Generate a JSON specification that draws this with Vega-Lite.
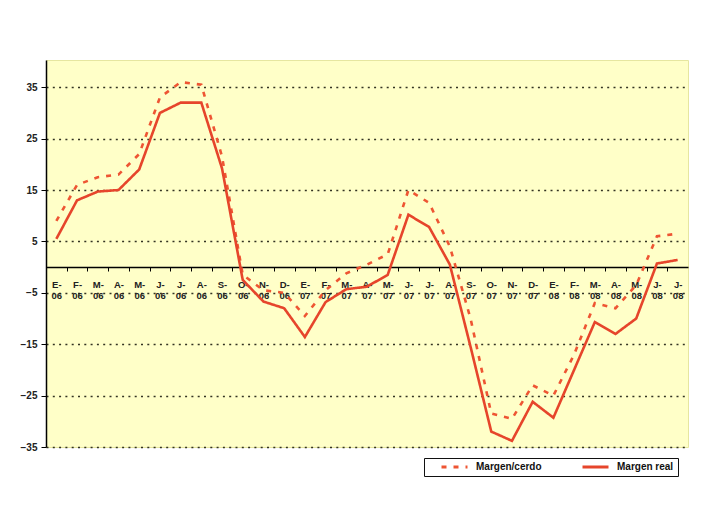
{
  "$schema": "https://vega.github.io/schema/vega-lite/v6.json",
  "width": 642,
  "height": 387,
  "autosize": "none",
  "padding": {"left": 46, "top": 60, "right": 22, "bottom": 74},
  "background": "white",
  "config": {
    "view": {"fill": "#FFFFC8", "stroke": "#E6E6A0", "strokeWidth": 1},
    "font": "Liberation Sans"
  },
  "data": {
    "values": [
      {"fecha": "2006-01", "Margen/cerdo": 9, "Margen real": 5.5},
      {"fecha": "2006-02", "Margen/cerdo": 16, "Margen real": 13},
      {"fecha": "2006-03", "Margen/cerdo": 17.5, "Margen real": 14.7},
      {"fecha": "2006-04", "Margen/cerdo": 18, "Margen real": 15},
      {"fecha": "2006-05", "Margen/cerdo": 22, "Margen real": 19},
      {"fecha": "2006-06", "Margen/cerdo": 33, "Margen real": 30},
      {"fecha": "2006-07", "Margen/cerdo": 36, "Margen real": 32},
      {"fecha": "2006-08", "Margen/cerdo": 35.5, "Margen real": 32},
      {"fecha": "2006-09", "Margen/cerdo": 21.5, "Margen real": 19.2},
      {"fecha": "2006-10", "Margen/cerdo": -1.5, "Margen real": -2.5},
      {"fecha": "2006-11", "Margen/cerdo": -4.5, "Margen real": -6.7},
      {"fecha": "2006-12", "Margen/cerdo": -5, "Margen real": -8},
      {"fecha": "2007-01", "Margen/cerdo": -9.5, "Margen real": -13.6},
      {"fecha": "2007-02", "Margen/cerdo": -4.5, "Margen real": -6.8},
      {"fecha": "2007-03", "Margen/cerdo": -1.2, "Margen real": -4.3},
      {"fecha": "2007-04", "Margen/cerdo": 0.5, "Margen real": -3.8},
      {"fecha": "2007-05", "Margen/cerdo": 2.5, "Margen real": -1.5},
      {"fecha": "2007-06", "Margen/cerdo": 15, "Margen real": 10.2},
      {"fecha": "2007-07", "Margen/cerdo": 12.5, "Margen real": 7.8},
      {"fecha": "2007-08", "Margen/cerdo": 4, "Margen real": 0.5},
      {"fecha": "2007-09", "Margen/cerdo": -10, "Margen real": -15.5},
      {"fecha": "2007-10", "Margen/cerdo": -28.5, "Margen real": -32},
      {"fecha": "2007-11", "Margen/cerdo": -29.5, "Margen real": -33.8},
      {"fecha": "2007-12", "Margen/cerdo": -23, "Margen real": -26.2},
      {"fecha": "2008-01", "Margen/cerdo": -25, "Margen real": -29.3},
      {"fecha": "2008-02", "Margen/cerdo": -17, "Margen real": -20},
      {"fecha": "2008-03", "Margen/cerdo": -7, "Margen real": -10.7},
      {"fecha": "2008-04", "Margen/cerdo": -8, "Margen real": -13},
      {"fecha": "2008-05", "Margen/cerdo": -3.5, "Margen real": -10},
      {"fecha": "2008-06", "Margen/cerdo": 6, "Margen real": 0.7},
      {"fecha": "2008-07", "Margen/cerdo": 6.5, "Margen real": 1.4}
    ]
  },
  "transform": [{"fold": ["Margen/cerdo", "Margen real"], "as": ["serie", "valor"]}],
  "mark": {"type": "line", "strokeWidth": 2.6},
  "encoding": {
    "x": {
      "field": "fecha",
      "type": "ordinal",
      "scale": {"type": "point", "padding": 0.5},
      "axis": {
        "orient": "bottom",
        "offset": -180,
        "title": null,
        "grid": false,
        "domainColor": "#000000",
        "domainWidth": 1.5,
        "tickColor": "#000000",
        "tickSize": 4,
        "tickOffset": -10.35,
        "labelOffset": 10.35,
        "labelPadding": 8,
        "labelAngle": 0,
        "labelFontSize": 9.5,
        "labelFontWeight": "bold",
        "labelColor": "#222222",
        "labelLineHeight": 11,
        "labelOverlap": false,
        "labelBaseline": "top",
        "labelExpr": "[['E','F','M','A','M','J','J','A','S','O','N','D'][toNumber(substring(datum.value,5,7))-1] + '-', substring(datum.value,2,4)]"
      }
    },
    "y": {
      "field": "valor",
      "type": "quantitative",
      "scale": {"domain": [-35, 40.3], "nice": false, "zero": false},
      "axis": {
        "values": [-35, -25, -15, -5, 5, 15, 25, 35],
        "title": null,
        "grid": true,
        "gridDash": [2, 4.3],
        "gridColor": "#333322",
        "gridWidth": 1.5,
        "domainColor": "#000000",
        "domainWidth": 1.5,
        "tickColor": "#000000",
        "tickSize": 5,
        "labelFontSize": 10,
        "labelFontWeight": "bold",
        "labelColor": "#222222",
        "labelPadding": 4
      }
    },
    "color": {
      "field": "serie",
      "type": "nominal",
      "scale": {"domain": ["Margen/cerdo", "Margen real"], "range": ["#EE5533", "#E6452B"]},
      "legend": {
        "orient": "none",
        "legendX": 378,
        "legendY": 398,
        "direction": "horizontal",
        "title": null,
        "strokeColor": "#111111",
        "fillColor": "#FFFFFF",
        "padding": 4,
        "symbolType": "stroke",
        "symbolSize": 676,
        "symbolStrokeWidth": 3,
        "symbolOffset": 12,
        "labelOffset": 7,
        "labelFontSize": 10,
        "labelFontWeight": "bold",
        "labelColor": "#111111",
        "columnPadding": 27,
        "clipHeight": 10,
        "labelLimit": 200
      }
    },
    "strokeDash": {
      "field": "serie",
      "type": "nominal",
      "scale": {"domain": ["Margen/cerdo", "Margen real"], "range": [[5, 7], [1, 0]]},
      "legend": {
        "orient": "none",
        "legendX": 378,
        "legendY": 398,
        "direction": "horizontal",
        "title": null,
        "strokeColor": "#111111",
        "fillColor": "#FFFFFF",
        "padding": 4,
        "symbolType": "stroke",
        "symbolSize": 676,
        "symbolStrokeWidth": 3,
        "symbolOffset": 12,
        "labelOffset": 7,
        "labelFontSize": 10,
        "labelFontWeight": "bold",
        "labelColor": "#111111",
        "columnPadding": 27,
        "clipHeight": 10,
        "labelLimit": 200
      }
    }
  }
}
